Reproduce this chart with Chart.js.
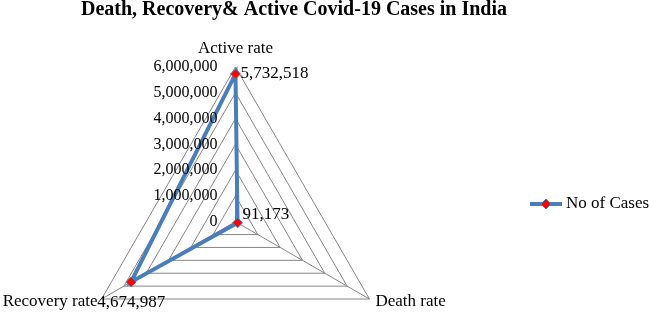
<!DOCTYPE html>
<html>
<head>
<meta charset="utf-8">
<title>Death, Recovery & Active Covid-19 Cases in India</title>
<script src="https://cdn.jsdelivr.net/npm/chart.js@4.4.0/dist/chart.umd.min.js"></script>
<style>
    body { margin: 0; background: #fff; }
    #wrap { width: 649px; height: 313px; position: relative; }
</style>
</head>
<body>
<div id="wrap"><canvas id="cases-chart"></canvas></div>
<script>
// chart data
var chartTitle = 'Death, Recovery& Active Covid-19 Cases in India';
var categories = ['Active rate', 'Death rate', 'Recovery rate'];
var seriesName = 'No of Cases';
var cases = [5732518, 91173, 4674987];
var tickValues = [0, 1000000, 2000000, 3000000, 4000000, 5000000, 6000000];

var serif = "'Liberation Serif', 'Times New Roman', serif";
var lineBlue = '#4A7EBB';
var gridGray = '#868686';

function fmt(n) {
    return n.toLocaleString('en-US');
}

// excel style radar: fit the triangle into the chart area instead of a circle
function fitTriangle(scale) {
    var w = scale.right - scale.left;
    var h = scale.bottom - scale.top;
    var r = Math.min(w / Math.sqrt(3), h / 1.5);
    scale.drawingArea = r;
    scale.xCenter = (scale.left + scale.right) / 2;
    scale.yCenter = scale.top + r;
}

// text around the radar, title and legend
var excelText = {
    id: 'excelText',
    afterDatasetsDraw: function (chart) {
        var ctx = chart.ctx;
        var scale = chart.scales.r;
        ctx.save();
        ctx.fillStyle = '#000';

        // title
        ctx.font = 'bold 20px ' + serif;
        ctx.textAlign = 'center';
        ctx.textBaseline = 'alphabetic';
        ctx.fillText(chartTitle, 294, 15);

        // tick labels, right aligned left of the vertical axis
        ctx.font = '16px ' + serif;
        ctx.textAlign = 'right';
        ctx.textBaseline = 'middle';
        tickValues.forEach(function (v) {
            var y = scale.yCenter - scale.getDistanceFromCenterForValue(v);
            ctx.fillText(fmt(v), scale.xCenter - 18, y);
        });

        // category labels
        ctx.font = '17px ' + serif;
        var labelPos = [
            { dx: 0, dy: -18, align: 'center' },
            { dx: 6, dy: 3, align: 'left' },
            { dx: -4, dy: 3, align: 'right' }
        ];
        categories.forEach(function (c, i) {
            var p = scale.getPointPosition(i, scale.drawingArea);
            ctx.textAlign = labelPos[i].align;
            ctx.fillText(c, p.x + labelPos[i].dx, p.y + labelPos[i].dy);
        });

        // value labels
        var valuePos = [
            { dx: 5, dy: 0 },
            { dx: 5, dy: -8 },
            { dx: -34, dy: 21 }
        ];
        var meta = chart.getDatasetMeta(0);
        ctx.textAlign = 'left';
        meta.data.forEach(function (pt, i) {
            ctx.fillText(fmt(cases[i]), pt.x + valuePos[i].dx, pt.y + valuePos[i].dy);
        });

        // legend
        var ly = 204;
        ctx.strokeStyle = lineBlue;
        ctx.lineWidth = 4;
        ctx.beginPath();
        ctx.moveTo(530, ly);
        ctx.lineTo(562, ly);
        ctx.stroke();
        ctx.fillStyle = 'red';
        ctx.strokeStyle = lineBlue;
        ctx.lineWidth = 1;
        ctx.beginPath();
        ctx.moveTo(546, ly - 5);
        ctx.lineTo(551, ly);
        ctx.lineTo(546, ly + 5);
        ctx.lineTo(541, ly);
        ctx.closePath();
        ctx.fill();
        ctx.stroke();
        ctx.fillStyle = '#000';
        ctx.textAlign = 'left';
        ctx.fillText(seriesName, 566, ly);

        ctx.restore();
    }
};

var ctx = document.getElementById('cases-chart').getContext('2d');
var casesChart = new Chart(ctx, {
    type: 'radar',
    data: {
        labels: categories,
        datasets: [{
            label: seriesName,
            data: cases,
            borderColor: lineBlue,
            borderWidth: 4,
            backgroundColor: 'rgba(0,0,0,0)',
            fill: false,
            tension: 0,
            clip: false,
            pointStyle: 'rectRot',
            pointRadius: 5,
            pointHoverRadius: 5,
            pointBackgroundColor: 'red',
            pointBorderColor: lineBlue,
            pointBorderWidth: 1
        }]
    },
    options: {
        responsive: true,
        maintainAspectRatio: false,
        animation: false,
        layout: {
            padding: { top: 67, bottom: 14, left: 101, right: 279 }
        },
        plugins: {
            legend: { display: false },
            title: { display: false },
            tooltip: { enabled: false }
        },
        scales: {
            r: {
                min: 0,
                max: 6000000,
                ticks: { stepSize: 1000000, display: false },
                grid: { color: gridGray, lineWidth: 1 },
                angleLines: { color: gridGray, lineWidth: 1 },
                pointLabels: { display: false },
                afterFit: fitTriangle
            }
        }
    },
    plugins: [excelText]
});
</script>
</body>
</html>
